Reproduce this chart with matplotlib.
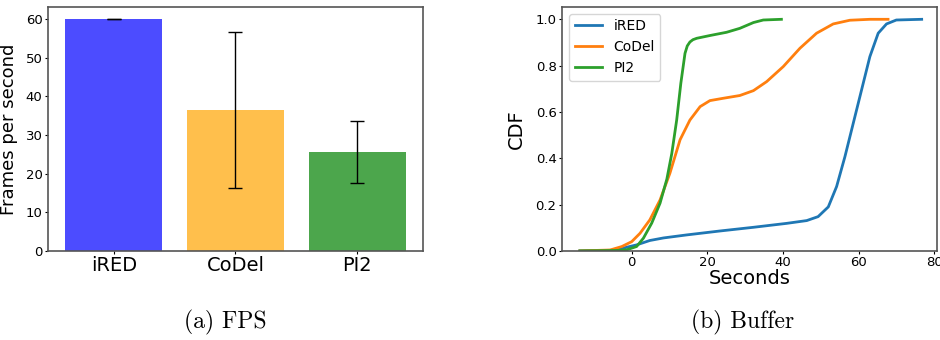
import numpy as np
import matplotlib
matplotlib.use("Agg")
import matplotlib.pyplot as plt

# FPS bars
schemes = ["iRED", "CoDel", "PI2"]
fps_mean = [60.0, 36.5, 25.7]
fps_err = [0.05, 20.25, 8.0]
bar_colors = ["blue", "orange", "green"]

# buffer CDF curves
ired_x = [-13.7, -4, -1.3, 1.3, 4.8, 8.4, 14.5, 23.3, 32.2, 41, 46.3, 49.3, 52, 54.2,
          56.4, 58.6, 60.8, 63, 65.2, 67.4, 70, 76.7]
ired_y = [0.0, 0.003, 0.016, 0.026, 0.045, 0.056, 0.069, 0.086, 0.102, 0.119, 0.131, 0.148,
          0.19, 0.278, 0.407, 0.551, 0.695, 0.839, 0.94, 0.98, 0.997, 1.0]
codel_x = [-13.7, -5.7, -2.6, 0, 2.2, 4.8, 7.5, 10.1, 12.8, 15.4, 18.1, 20.7, 24.2, 28.6,
           32.2, 35.7, 40.1, 44.5, 48.9, 53.3, 57.7, 63, 67.8]
codel_y = [0.0, 0.004, 0.019, 0.04, 0.076, 0.134, 0.22, 0.335, 0.48, 0.565, 0.623, 0.649,
           0.659, 0.671, 0.692, 0.731, 0.796, 0.875, 0.94, 0.98, 0.996, 1.0, 1.0]
pi2_x = [-13.7, -4, -1.3, 1.3, 3.1, 5.3, 7.5, 9.3, 10.6, 11.9, 13.0, 14.1, 14.7, 15.4,
         16.2, 17.2, 20.7, 25.1, 28.6, 32.2, 34.8, 39.6]
pi2_y = [0.0, 0.002, 0.005, 0.019, 0.055, 0.12, 0.206, 0.31, 0.42, 0.565, 0.724, 0.853,
         0.885, 0.902, 0.912, 0.918, 0.93, 0.944, 0.961, 0.986, 0.997, 1.0]

fig = plt.figure(figsize=(9.4, 3.4), dpi=100)

# (a) FPS
ax1 = fig.add_axes([0.051, 0.262, 0.399, 0.718])
pos = np.arange(len(schemes))
ax1.bar(pos, fps_mean, width=0.8, color=bar_colors, alpha=0.7,
        yerr=fps_err, capsize=5, error_kw=dict(ecolor="black", elinewidth=1))
ax1.set_xticks(pos)
ax1.set_xticklabels(schemes, fontsize=14)
ax1.set_ylim(0, 63.2)
ax1.set_yticks(range(0, 61, 10))
ax1.tick_params(length=2.5, pad=1.5)
ax1.tick_params(axis="y", labelsize=9.5)
ax1.set_ylabel("Frames per second", fontsize=13)
ax1.yaxis.set_label_coords(-0.08, 0.5)

# (b) Buffer
ax2 = fig.add_axes([0.598, 0.262, 0.399, 0.718])
ax2.plot(ired_x, ired_y, color="tab:blue", lw=2, label="iRED")
ax2.plot(codel_x, codel_y, color="tab:orange", lw=2, label="CoDel")
ax2.plot(pi2_x, pi2_y, color="tab:green", lw=2, label="PI2")
ax2.set_xlim(-18.4, 80.8)
ax2.set_ylim(0, 1.054)
ax2.set_xticks([0, 20, 40, 60, 80])
ax2.set_yticks([0, 0.2, 0.4, 0.6, 0.8, 1.0])
ax2.tick_params(labelsize=9.5, length=2.5, pad=1.5)
ax2.set_xlabel("Seconds", fontsize=14)
ax2.xaxis.set_label_coords(0.5, -0.075)
ax2.set_ylabel("CDF", fontsize=14)
ax2.yaxis.set_label_coords(-0.096, 0.5)
ax2.legend(loc="upper left", fontsize=10)

for ax in (ax1, ax2):
    for s in ax.spines.values():
        s.set_color("#555555")
        s.set_linewidth(1.2)

fig.text(225 / 940, 1 - 322 / 340, "(a) FPS", fontname="cmr10", fontsize=17,
         ha="center", va="center")
fig.text(743 / 940, 1 - 322 / 340, "(b) Buffer", fontname="cmr10", fontsize=17,
         ha="center", va="center")

fig.savefig("out.png", dpi=100)
